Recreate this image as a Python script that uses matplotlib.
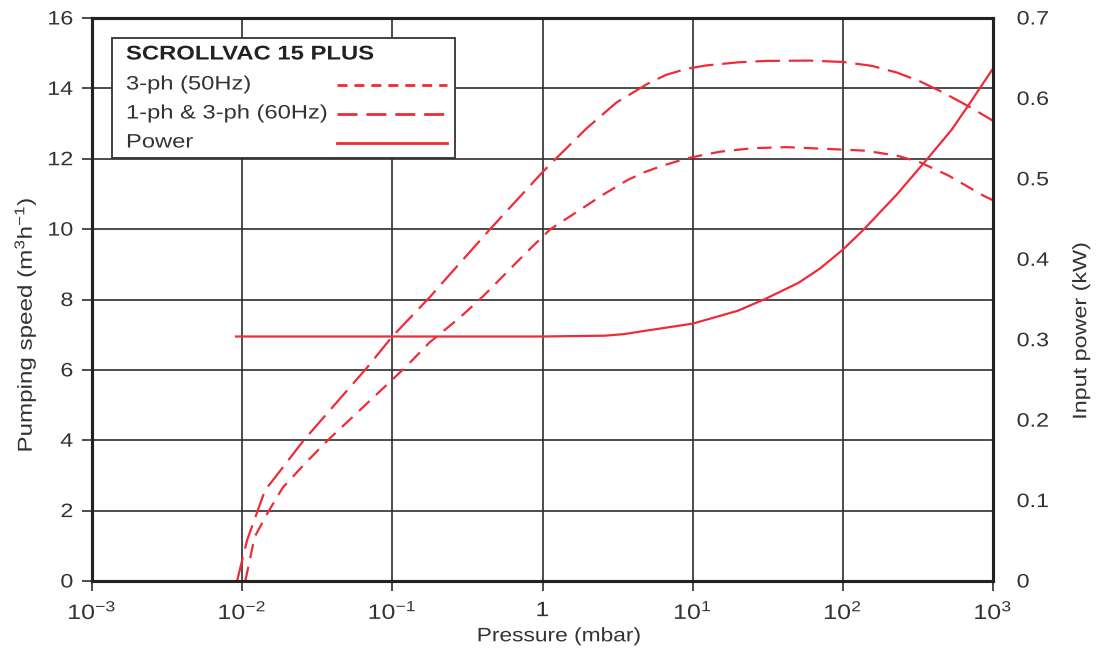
import matplotlib
matplotlib.use('Agg')
import matplotlib.pyplot as plt
from matplotlib.lines import Line2D
from matplotlib.patches import Rectangle
from matplotlib.patheffects import AbstractPathEffect
from matplotlib.transforms import Affine2D

plt.rcParams['font.family'] = ['Liberation Sans', 'DejaVu Sans']
plt.rcParams['mathtext.fontset'] = 'custom'
plt.rcParams['mathtext.rm'] = 'Liberation Sans'
plt.rcParams['mathtext.it'] = 'Liberation Sans:italic'
plt.rcParams['mathtext.bf'] = 'Liberation Sans:bold'

# ---------------- data ----------------
# 3-ph (50Hz) pumping speed, m3/h vs pressure (mbar)
p50 = [0.0105, 0.0121, 0.0148, 0.0186, 0.0265, 0.0372, 0.122, 0.177, 0.282,
       0.402, 0.782, 1.13, 1.81, 2.51, 3.70, 4.79, 6.27, 8.97, 11.2, 15.2, 25,
       42, 100, 140, 229, 326, 507, 863, 1000]
s50 = [0.0, 1.25, 1.94, 2.65, 3.36, 4.0, 6.07, 6.78, 7.49,
       8.09, 9.34, 10.0, 10.57, 10.97, 11.40, 11.62, 11.80, 12.0, 12.09, 12.2, 12.3,
       12.33, 12.26, 12.23, 12.09, 11.9, 11.52, 10.95, 10.82]

# 1-ph & 3-ph (60Hz) pumping speed
p60 = [0.00925, 0.0108, 0.01426, 0.0156, 0.0257, 0.068, 0.1, 0.177, 0.217,
       0.448, 1.0, 1.28, 1.75, 1.95, 3.11, 5.01, 6.61, 9.0, 12.2, 20, 30.7, 60,
       100, 156, 229, 326, 457, 681, 1000]
s60 = [0.0, 1.17, 2.6, 2.8, 4.0, 6.07, 6.95, 8.06, 8.49,
       10.0, 11.62, 12.08, 12.65, 12.85, 13.6, 14.13, 14.38, 14.55, 14.65, 14.74, 14.78, 14.79,
       14.75, 14.64, 14.45, 14.2, 13.9, 13.5, 13.08]

# Input power, kW
pp = [0.0091, 1.0, 2.6, 3.5, 4.8, 10, 20, 30.7, 51, 71, 100, 137, 230, 366, 530, 695, 982, 1000]
pw = [0.304, 0.304, 0.305, 0.307, 0.311, 0.320, 0.336, 0.351, 0.371, 0.389, 0.412, 0.4365,
      0.481, 0.525, 0.561, 0.593, 0.635, 0.637]

x_ticks = [1e-3, 1e-2, 1e-1, 1, 1e1, 1e2, 1e3]
x_tick_labels = [r'$\mathregular{10^{-3}}$', r'$\mathregular{10^{-2}}$',
                 r'$\mathregular{10^{-1}}$', '1', r'$\mathregular{10^{1}}$',
                 r'$\mathregular{10^{2}}$', r'$\mathregular{10^{3}}$']
y_left_ticks = [0, 2, 4, 6, 8, 10, 12, 14, 16]
y_right_ticks = [0, 0.1, 0.2, 0.3, 0.4, 0.5, 0.6, 0.7]
y_right_labels = ['0', '0.1', '0.2', '0.3', '0.4', '0.5', '0.6', '0.7']

legend_title = 'SCROLLVAC 15 PLUS'
legend_labels = ['3-ph (50Hz)', '1-ph & 3-ph (60Hz)', 'Power']


# The reference typeface is horizontally widened; reproduce that on real text objects.
class HStretch(AbstractPathEffect):
    def __init__(self, sx=1.2, anchor='center'):
        super().__init__()
        self.sx = sx
        self.anchor = anchor

    def draw_path(self, renderer, gc, tpath, affine, rgbFace=None):
        ext = tpath.get_extents()
        if self.anchor == 'left':
            cx = 0.0
        elif self.anchor == 'right':
            cx = ext.x1
        else:
            cx = 0.5 * (ext.x0 + ext.x1)
        pre = Affine2D().translate(-cx, 0).scale(self.sx, 1.0).translate(cx, 0)
        renderer.draw_path(gc, tpath, pre + affine, rgbFace)


def stretch(texts, anchor, sx=1.2):
    for t in texts:
        t.set_path_effects([HStretch(sx, anchor)])


# ---------------- styling ----------------
RED = '#ef2b38'
TXT = '#333333'
GRID = '#2e2e2e'
LW = 1.6
DASH50 = (0, (6.5, 4.0))
DASH60 = (0, (11.0, 4.0))
LDASH50 = (0, (3.6, 2.5))
LDASH60 = (0, (7.2, 3.2))

fig = plt.figure(figsize=(10.97, 6.54), dpi=100)
ax = fig.add_axes([92 / 1097, 1 - 581 / 654, 901 / 1097, 563 / 654])
ax.set_xscale('log')
ax.set_xlim(1e-3, 1e3)
ax.set_ylim(0, 16)
ax.set_xticks(x_ticks)
ax.set_xticklabels(x_tick_labels)
ax.minorticks_off()
ax.set_yticks(y_left_ticks)
ax.grid(True, color=GRID, lw=1.2)
ax.set_axisbelow(True)
ax.tick_params(axis='x', direction='out', length=7.5, width=1.2, color=GRID,
               labelsize=15, labelcolor=TXT, pad=7)
ax.tick_params(axis='y', direction='out', length=7.5, width=1.2, color=GRID,
               labelsize=14, labelcolor=TXT, pad=6)
for s in ax.spines.values():
    s.set_linewidth(2.2)
    s.set_color('#222222')

ax.plot(p50, s50, color=RED, lw=LW, linestyle=DASH50)
ax.plot(p60, s60, color=RED, lw=LW, linestyle=DASH60)

ax.set_xlabel('Pressure (mbar)', fontsize=14, color=TXT)
ax.xaxis.set_label_coords(0.519, -0.084)
ax.set_ylabel(r'Pumping speed (m$^{3}$h$^{\mathregular{-1}}$)', fontsize=14.5, color=TXT)
ax.yaxis.set_label_coords(-0.060, 0.455)

ax2 = ax.twinx()
ax2.set_ylim(0, 0.7)
ax2.set_yticks(y_right_ticks)
ax2.set_yticklabels(y_right_labels)
ax2.tick_params(axis='y', length=0, labelsize=14, labelcolor=TXT, pad=17)
for s in ax2.spines.values():
    s.set_linewidth(2.2)
    s.set_color('#222222')
ax2.plot(pp, pw, color=RED, lw=LW, linestyle='-')
ax2.set_ylabel('Input power (kW)', fontsize=14, color=TXT)
ax2.yaxis.set_label_coords(1.089, 0.445)

stretch(ax.get_xticklabels(), 'center')
stretch(ax.get_yticklabels(), 'right')
stretch(ax2.get_yticklabels(), 'left')
stretch([ax.xaxis.label], 'center', 1.17)
stretch([ax.yaxis.label, ax2.yaxis.label], 'center', 1.2)

# ---------------- legend box (left-aligned text, handles at right) ----------------
x0, x1 = 20 / 901, 363 / 901
y0, y1 = 1 - 140 / 563, 1 - 20 / 563
box = Rectangle((x0, y0), x1 - x0, y1 - y0, transform=ax2.transAxes,
                facecolor='white', edgecolor='#333333', lw=1.3, zorder=10)
ax2.add_patch(box)
tx = 34 / 901
t = ax2.text(tx, 1 - 36 / 563, legend_title, transform=ax2.transAxes, fontsize=14.3,
             fontweight='bold', color='#222222', va='center', ha='left', zorder=11)
stretch([t], 'left', 1.2)
row_y = [1 - 67 / 563, 1 - 96 / 563, 1 - 125 / 563]
styles = [LDASH50, LDASH60, '-']
hx0, hx1 = 245 / 901, 355 / 901
for lab, yy, st in zip(legend_labels, row_y, styles):
    t = ax2.text(tx, yy, lab, transform=ax2.transAxes, fontsize=14, color=TXT,
                 va='center', ha='left', zorder=11)
    stretch([t], 'left', 1.22)
    ax2.add_line(Line2D([hx0, hx1], [yy, yy], transform=ax2.transAxes, color=RED,
                        lw=2.0, linestyle=st, zorder=11))

fig.savefig('out.png', dpi=100)
